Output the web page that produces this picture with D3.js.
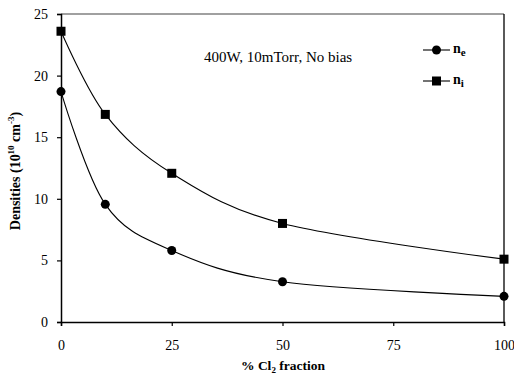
<!DOCTYPE html>
<html>
<head>
<meta charset="utf-8">
<script src="https://cdn.jsdelivr.net/npm/d3@7"></script>
<style>
  body { margin: 0; background: #fff; }
  svg text { font-family: "Liberation Serif", "Times New Roman", "DejaVu Serif", serif !important; }
</style>
</head>
<body>
<svg id="chart" width="514" height="374"></svg>
<script>
const clFraction = [0, 10, 25, 50, 100];
const neValues = [18.7, 9.55, 5.8, 3.27, 2.08];
const niValues = [23.6, 16.85, 12.07, 8.0, 5.1];
const xTicks = [0, 25, 50, 75, 100];
const yTicks = [0, 5, 10, 15, 20, 25];

const svg = d3.select('#chart');
const margin = { left: 61, right: 10, top: 14, bottom: 52 };
const width = 514, height = 374;

const x = d3.scaleLinear().domain([0, 100]).range([margin.left, width - margin.right]);
const y = d3.scaleLinear().domain([0, 25]).range([height - margin.bottom, margin.top]);

// frame: gray top, black right
svg.append('line')
  .attr('x1', x(0)).attr('x2', x(100))
  .attr('y1', y(25)).attr('y2', y(25))
  .attr('stroke', '#808080').attr('stroke-width', 1.5);
svg.append('line')
  .attr('x1', x(100)).attr('x2', x(100))
  .attr('y1', y(25)).attr('y2', y(0))
  .attr('stroke', '#000').attr('stroke-width', 1.3);

const xAxis = svg.append('g')
  .attr('transform', `translate(0,${y(0)})`)
  .call(d3.axisBottom(x).tickValues(xTicks).tickSize(4).tickPadding(14));
const yAxis = svg.append('g')
  .attr('transform', `translate(${x(0)},0)`)
  .call(d3.axisLeft(y).tickValues(yTicks).tickSize(4).tickPadding(9));

[xAxis, yAxis].forEach(g => {
  g.attr('font-family', null);
  g.select('.domain').attr('stroke', '#000').attr('stroke-width', 1.5);
  g.selectAll('.tick line').attr('stroke', '#000').attr('stroke-width', 1.2);
  g.selectAll('.tick text')
    .attr('fill', '#000')
    .style('font-size', '14px');
});

const line = d3.line()
  .x((d, i) => x(clFraction[i]))
  .y(d => y(d))
  .curve(d3.curveCatmullRom.alpha(0));

svg.append('path').datum(niValues)
  .attr('d', line).attr('fill', 'none').attr('stroke', '#000').attr('stroke-width', 1.1);
svg.append('path').datum(neValues)
  .attr('d', line).attr('fill', 'none').attr('stroke', '#000').attr('stroke-width', 1.1);

svg.append('g').selectAll('circle')
  .data(neValues)
  .join('circle')
  .attr('cx', (d, i) => x(clFraction[i]))
  .attr('cy', d => y(d))
  .attr('r', 4.5)
  .attr('fill', '#000');

svg.append('g').selectAll('rect')
  .data(niValues)
  .join('rect')
  .attr('x', (d, i) => x(clFraction[i]) - 4.5)
  .attr('y', d => y(d) - 4.5)
  .attr('width', 9).attr('height', 9)
  .attr('fill', '#000');

// annotation
svg.append('text')
  .attr('x', 204).attr('y', 62)
  .style('font-size', '15px')
  .text('400W, 10mTorr, No bias');

// legend
const legend = svg.append('g');
const legendRows = [
  { label: 'e', y: 50, shape: 'circle' },
  { label: 'i', y: 81, shape: 'square' }
];
legendRows.forEach(r => {
  legend.append('line')
    .attr('x1', 423).attr('x2', 450)
    .attr('y1', r.y).attr('y2', r.y)
    .attr('stroke', '#000').attr('stroke-width', 1.1);
  if (r.shape === 'circle') {
    legend.append('circle').attr('cx', 436.5).attr('cy', r.y).attr('r', 4.5).attr('fill', '#000');
  } else {
    legend.append('rect').attr('x', 432).attr('y', r.y - 4.5).attr('width', 9).attr('height', 9).attr('fill', '#000');
  }
  const t = legend.append('text')
    .attr('x', 453).attr('y', r.y + 3)
    .style('font-size', '14px').style('font-weight', 'bold');
  t.append('tspan').text('n');
  t.append('tspan').attr('dy', 3).style('font-size', '11px').text(r.label);
});

// y axis title
const yTitle = svg.append('text')
  .attr('transform', 'translate(20,171) rotate(-90)')
  .attr('text-anchor', 'middle')
  .style('font-size', '14px').style('font-weight', 'bold');
yTitle.append('tspan').text('Densities (10');
yTitle.append('tspan').attr('dy', -6).style('font-size', '9px').text('10');
yTitle.append('tspan').attr('dy', 6).text(' cm');
yTitle.append('tspan').attr('dy', -6).style('font-size', '9px').text('-3');
yTitle.append('tspan').attr('dy', 6).text(')');

// x axis title
const xTitle = svg.append('text')
  .attr('x', 283).attr('y', 370)
  .attr('text-anchor', 'middle')
  .style('font-size', '13.5px').style('font-weight', 'bold');
xTitle.append('tspan').text('% Cl');
xTitle.append('tspan').attr('dy', 3).style('font-size', '9px').text('2');
xTitle.append('tspan').attr('dy', -3).text(' fraction');
</script>
</body>
</html>
